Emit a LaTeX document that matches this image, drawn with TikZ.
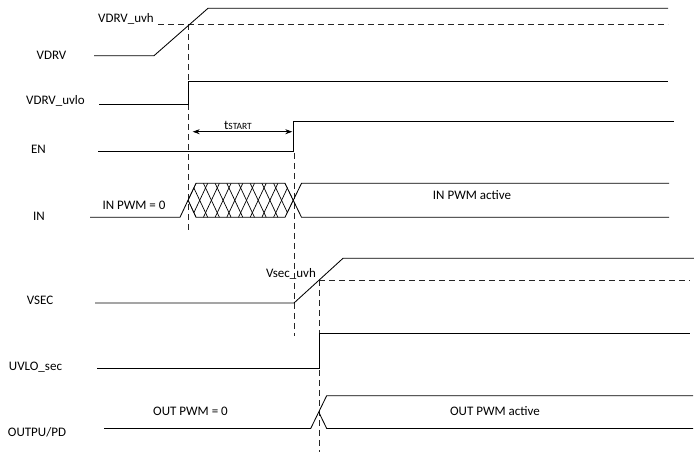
\documentclass[tikz,border=0pt]{standalone}
\usepackage{fontspec}
\setmainfont{Carlito}
\usetikzlibrary{arrows.meta}
\tikzset{
  sig/.style={line width=0.85pt, black, line join=miter},
  hatch/.style={line width=0.7pt, black},
  dsh/.style={line width=0.8pt, black!85, dash pattern=on 6pt off 4pt},
  lbl/.style={anchor=base, inner sep=0pt, font=\fontsize{13}{15}\selectfont},
}
\begin{document}
\begin{tikzpicture}[x=1pt,y=-1pt]
\useasboundingbox (0,0) rectangle (694,454);

% ---------- labels ----------
\node[lbl] (lVDRVuvh) at (126,22.8) {VDRV\_uvh};
\node[lbl] (lVDRV) at (51.5,59.4) {VDRV};
\node[lbl] (lVDRVuvlo) at (55.5,104.4) {VDRV\_uvlo};
\node[lbl] (lEN) at (38.5,153.3) {EN};
\node[lbl] (lIN) at (39,221) {IN};
\node[lbl] (lINzero) at (134,209.3) {IN PWM = 0};
\node[lbl] (lINact) at (472,199.3) {IN PWM active};
\node[lbl] (ltstart) at (238,129.3) {t{\fontsize{9.5}{11}\selectfont START}};
\node[lbl] (lVSEC) at (40,305) {VSEC};
\node[lbl] (lVsecuvh) at (291,277.3) {Vsec\_uvh};
\node[lbl] (lUVLOsec) at (35.5,371) {UVLO\_sec};
\node[lbl] (lOUTzero) at (190.5,416) {OUT PWM = 0};
\node[lbl] (lOUTact) at (495,416) {OUT PWM active};
\node[lbl] (lOUTPU) at (37,436) {OUTPU/PD};

% ---------- dashed reference lines ----------
\draw[dsh] (158,24.5) -- (668,24.5);
\draw[dsh] (188.7,24.5) -- (188.7,232);
\draw[dsh] (294,153) -- (294,336);
\draw[dsh] (319,280) -- (690,280);
\draw[dsh] (319,280) -- (319,452);

% ---------- VDRV ----------
\draw[sig] (94,55.7) -- (154,55.7) -- (208,8.3) -- (668,8.3);

% ---------- VDRV_uvlo ----------
\draw[sig] (99,104) -- (188.7,104) -- (188.7,81.7) -- (668,81.7);

% ---------- EN ----------
\draw[sig] (98,151) -- (293,151) -- (293,121.5) -- (674,121.5);

% ---------- t_START ----------
\coordinate (tsA) at (192.7,131.7);
\coordinate (tsB) at (292.3,131.7);
\draw[line width=0.8pt, {Stealth[length=7pt,width=5pt]}-{Stealth[length=7pt,width=5pt]}] (tsA) -- (tsB);

% ---------- IN ----------
\draw[sig] (90,217.3) -- (180,217.3) -- (196,183.3) -- (285,183.3) -- (301.5,217.3) -- (669,217.3);
\draw[sig] (188,200) -- (196,217.3) -- (285,217.3) -- (301.5,183.3) -- (669,183.3);
\begin{scope}
  \clip (188,200) -- (196,183.3) -- (285,183.3) -- (293.5,200) -- (285,217.3) -- (196,217.3) -- cycle;
  \foreach \k in {-1,...,10} {
    \pgfmathsetmacro\xa{188+\k*11.7-8}
    \draw[hatch] (\xa,217.3) -- ++(16,-34);
    \draw[hatch] (\xa,183.3) -- ++(16,34);
  }
\end{scope}

% ---------- VSEC ----------
\draw[sig] (95,303) -- (294,303) -- (343,258.3) -- (694,258.3);

% ---------- UVLO_sec ----------
\draw[sig] (97,368.3) -- (319,368.3) -- (319,333.3) -- (690,333.3);

% ---------- OUTPU/PD ----------
\draw[sig] (104,428.5) -- (310.7,428.5) -- (326.7,395.7) -- (693,395.7);
\draw[sig] (318.7,412) -- (326.7,428.5) -- (693,428.5);
\end{tikzpicture}
\end{document}
